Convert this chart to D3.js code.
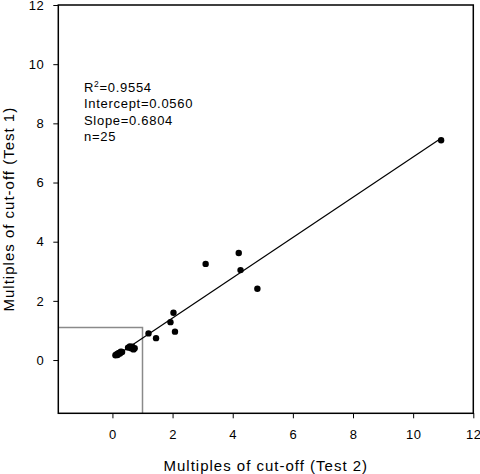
<!DOCTYPE html>
<html><head><meta charset="utf-8">
<script src="https://cdn.jsdelivr.net/npm/d3@7/dist/d3.min.js"></script>
<style>body{margin:0;background:#fff}svg{display:block;font-family:"Liberation Sans",Arial,sans-serif}</style>
</head><body>
<svg id="c" width="480" height="474"></svg>
<script>
const test2 = [0.10,0.13,0.15,0.17,0.19,0.22,0.25,0.28,0.32, 0.52,0.58,0.62,0.66,0.70,0.74, 1.20,1.45,1.93,2.03,2.08,3.10,4.20,4.26,4.82,10.93];
const test1 = [0.16,0.18,0.20,0.17,0.22,0.24,0.22,0.28,0.27, 0.42,0.46,0.40,0.45,0.36,0.40, 0.90,0.74,1.28,1.60,0.96,3.25,3.62,3.04,2.41,7.43];
const tickValues = [0,2,4,6,8,10,12];
const intercept = 0.0560, slope = 0.6804;
const statLines = ["R²=0.9554","Intercept=0.0560","Slope=0.6804","n=25"];
const cutoffX = 1, cutoffY = 1.1;
const domain = [-1.8, 12];

const svg = d3.select("#c");
const L = 58.3, R = 473.3, T = 5, B = 413.3;
const x = d3.scaleLinear().domain(domain).range([L, R]);
const y = d3.scaleLinear().domain(domain).range([B, T]);

// cut-off reference lines
svg.append("path")
  .attr("d", `M${x(domain[0])},${y(cutoffY)}H${x(cutoffX)}V${y(domain[0])}`)
  .attr("fill","none").attr("stroke","#8a8a8a").attr("stroke-width",1.5);

// axes
const xa = svg.append("g").attr("transform",`translate(0,${B})`)
  .call(d3.axisBottom(x).tickValues(tickValues).tickSize(5).tickPadding(11).tickFormat(d3.format("d")));
const ya = svg.append("g").attr("transform",`translate(${L},0)`)
  .call(d3.axisLeft(y).tickValues(tickValues).tickSize(5).tickPadding(9).tickFormat(d3.format("d")));
[xa, ya].forEach(g => {
  g.select(".domain").remove();
  g.selectAll("line").attr("stroke","#000").attr("stroke-width",1);
  g.selectAll("text").attr("font-size",13).attr("fill","#000").attr("letter-spacing",0.5)
    .attr("font-family","Liberation Sans, Arial, sans-serif");
});
// frame
svg.append("rect").attr("x",L).attr("y",T).attr("width",R-L).attr("height",B-T)
  .attr("fill","none").attr("stroke","#000").attr("stroke-width",1.5);

// regression line
const x0 = d3.min(test2), x1 = d3.max(test2);
svg.append("line")
  .attr("x1",x(x0)).attr("y1",y(intercept+slope*x0))
  .attr("x2",x(x1)).attr("y2",y(intercept+slope*x1))
  .attr("stroke","#000").attr("stroke-width",1.2);

// points
svg.append("g").selectAll("circle").data(test2).join("circle")
  .attr("cx",(d)=>x(d)).attr("cy",(d,i)=>y(test1[i])).attr("r",3.2).attr("fill","#000");

// stats text
const st = svg.append("text").attr("font-size",13).attr("fill","#000").attr("letter-spacing",0.7);
statLines.forEach((s,i)=>{
  const t = st.append("tspan").attr("x",84).attr("y",92+i*16.3);
  if (s.startsWith("R²")) {
    t.text("R");
    st.append("tspan").attr("dy",-5).attr("font-size",8.5).text("2");
    st.append("tspan").attr("dy",5).text(s.slice(2));
  } else t.text(s);
});

// axis titles
svg.append("text").attr("x",(L+R)/2).attr("y",471).attr("text-anchor","middle").attr("letter-spacing",1)
  .attr("font-size",15).attr("fill","#000").text("Multiples of cut-off (Test 2)");
svg.append("text").attr("transform",`translate(14,${(T+B)/2}) rotate(-90)`).attr("text-anchor","middle").attr("letter-spacing",1)
  .attr("font-size",15).attr("fill","#000").text("Multiples of cut-off (Test 1)");
</script>
</body></html>
